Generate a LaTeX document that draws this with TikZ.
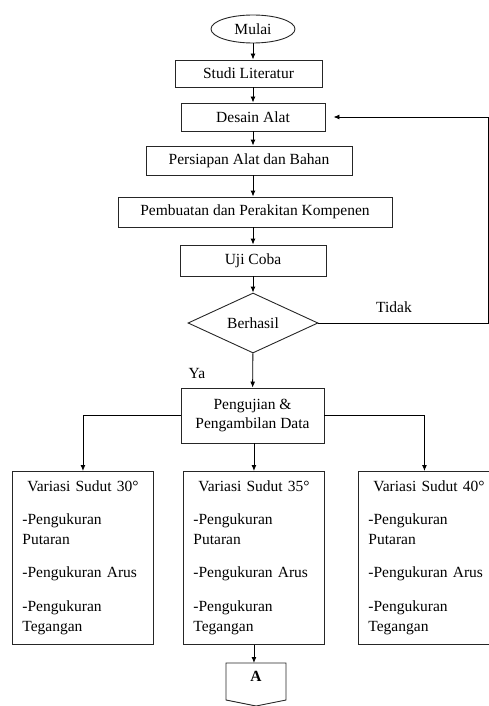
\documentclass[tikz,border=0pt]{standalone}
\usepackage{fontspec}
\setmainfont{Liberation Serif}
\usetikzlibrary{shapes.geometric,arrows.meta}
\tikzset{
  kotak/.style={draw=black!85, rectangle, inner sep=2pt},
  panah/.style={-{Latex[length=6pt,width=5pt]}},
  variasi/.style={draw=black!85, anchor=north west, text width=121pt, inner xsep=10pt, inner ysep=6pt, minimum height=173pt, align=left},
}
\begin{document}
\begin{tikzpicture}[x=1pt,y=-1pt,line width=0.9pt,font=\fontsize{15.5}{20.5}\selectfont]
    \clip (0,0) rectangle (489,706);
    % alur utama
    \node[ellipse,draw=black!85,minimum width=84pt,minimum height=28pt,inner sep=0pt] (mulai) at (253,29) {Mulai};
    \node[kotak,minimum width=147pt,minimum height=27pt] (studi) at (248.5,73.5) {Studi Literatur};
    \node[kotak,minimum width=144pt,minimum height=28pt] (desain) at (253,117) {Desain Alat};
    \node[kotak,minimum width=206pt,minimum height=29pt] (persiapan) at (249,160.5) {Persiapan Alat dan Bahan};
    \node[kotak,minimum width=274pt,minimum height=30pt] (pembuatan) at (255,212) {Pembuatan dan Perakitan Kompenen};
    \node[kotak,minimum width=146pt,minimum height=31pt] (uji) at (253,260.5) {Uji Coba};
    \node[diamond,draw=black!85,aspect=2.2,minimum width=130pt,minimum height=60pt,inner sep=0pt] (berhasil) at (253,323) {Berhasil};
    \node[kotak,minimum width=143pt,minimum height=55pt,align=center] (pengujian) at (252.5,415.5) {Pengujian \&\\[-2pt]Pengambilan Data};
    \node (tidak) at (394,307) {Tidak};
    \node (ya) at (197,373) {Ya};
    % variasi sudut
    \node[variasi] (var30) at (12,471) {\makebox[121pt]{Variasi Sudut 30°}\\[12.5pt]-Pengukuran\\Putaran\\[12.5pt]-Pengukuran Arus\\[13pt]-Pengukuran\\Tegangan};
    \node[variasi] (var35) at (183,471) {\makebox[121pt]{Variasi Sudut 35°}\\[12.5pt]-Pengukuran\\Putaran\\[12.5pt]-Pengukuran Arus\\[13pt]-Pengukuran\\Tegangan};
    \node[variasi] (var40) at (358,471) {\makebox[121pt]{Variasi Sudut 40°}\\[12.5pt]-Pengukuran\\Putaran\\[12.5pt]-Pengukuran Arus\\[13pt]-Pengukuran\\Tegangan};
    % penghubung halaman
    \coordinate (atas) at (256,663);
    \draw[draw=black!85] (226,663) -- (286,663) -- (286,700) -- (256,706) -- (226,700) -- cycle;
    \node[font=\fontsize{15.5}{18}\selectfont\bfseries,inner sep=0pt] (A) at (256,676) {A};
    \coordinate (balik) at (488,323);
    % panah
    \draw[panah] (mulai) -- (mulai |- studi.north);
    \draw[panah] (studi.south -| mulai) -- (desain);
    \draw[panah] (desain) -- (desain |- persiapan.north);
    \draw[panah] (persiapan.south -| desain) -- (desain |- pembuatan.north);
    \draw[panah] (pembuatan.south -| uji) -- (uji);
    \draw[panah] (uji) -- (berhasil);
    \draw[panah,shorten >=8pt] (berhasil.east) -- (balik) |- (desain.east);
    \draw[panah] (berhasil) -- (pengujian);
    \draw[panah] (pengujian.west) -| (var30.north);
    \draw[panah] (pengujian.south -| var35) -- (var35.north);
    \draw[panah] (pengujian.east) -| ([xshift=-4.5pt]var40.north);
    \draw[panah] (var35.south) -- (var35.south |- atas);
\end{tikzpicture}
\end{document}
